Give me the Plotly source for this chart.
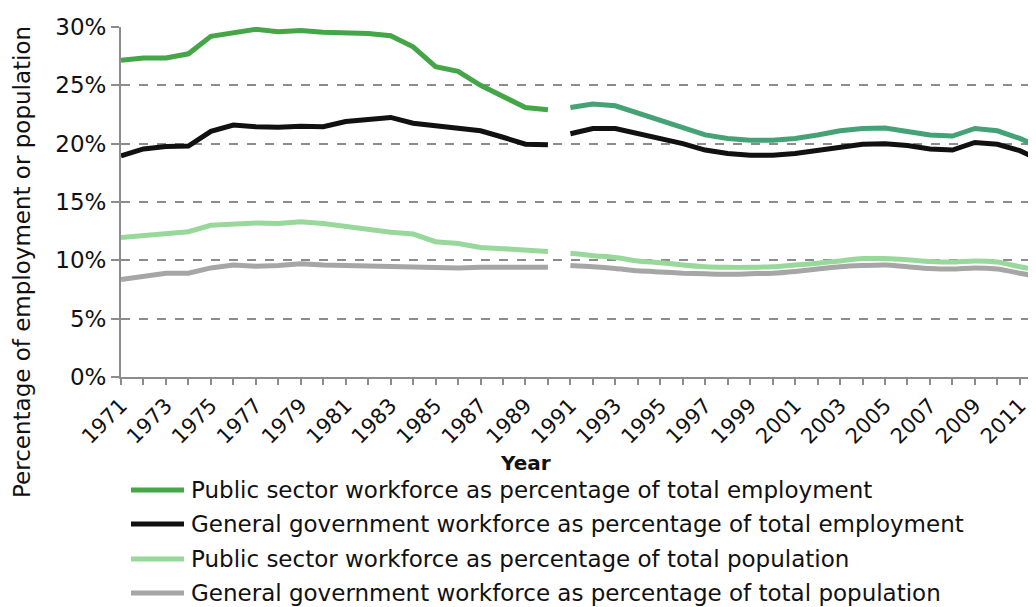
import plotly.graph_objects as go

# years for the two segments (break between 1990 and 1991)
years_a = list(range(1971, 1991))
years_b = list(range(1991, 2013))

# public sector workforce, % of total employment
ps_emp_a = [27.15, 27.35, 27.35, 27.7, 29.2, 29.55, 29.8, 29.6, 29.7, 29.55,
            29.55, 29.45, 29.25, 28.3, 26.6, 26.2, 25.0, 24.0, 23.1, 22.9]
ps_emp_b = [23.1, 23.4, 23.25, 22.6, 22.05, 21.4, 20.75, 20.45, 20.3, 20.3,
            20.45, 20.75, 21.1, 21.3, 21.35, 21.05, 20.75, 20.65, 21.3, 21.1,
            20.45, 19.6]

# general government workforce, % of total employment
gg_emp_a = [18.95, 19.55, 19.75, 19.8, 21.05, 21.6, 21.45, 21.4, 21.5, 21.45,
            21.9, 22.1, 22.25, 21.75, 21.55, 21.4, 21.1, 20.55, 19.95, 19.9]
gg_emp_b = [20.85, 21.3, 21.3, 20.9, 20.45, 20.0, 19.45, 19.15, 19.0, 19.0,
            19.15, 19.4, 19.7, 19.95, 20.0, 19.85, 19.55, 19.45, 20.1, 19.95,
            19.4, 18.5]

# public sector workforce, % of total population
ps_pop_a = [11.95, 12.1, 12.25, 12.45, 13.0, 13.1, 13.2, 13.15, 13.3, 13.15,
            12.9, 12.6, 12.4, 12.25, 11.6, 11.45, 11.1, 11.0, 10.9, 10.75]
ps_pop_b = [10.6, 10.4, 10.25, 9.95, 9.8, 9.6, 9.45, 9.4, 9.4, 9.45,
            9.6, 9.75, 9.95, 10.15, 10.15, 10.05, 9.9, 9.85, 9.95, 9.85,
            9.45, 9.1]

# general government workforce, % of total population
gg_pop_a = [8.35, 8.65, 8.9, 8.9, 9.35, 9.6, 9.5, 9.55, 9.7, 9.6,
            9.55, 9.45, 9.45, 9.4, 9.35, 9.35, 9.4, 9.4, 9.4, 9.4]
gg_pop_b = [9.55, 9.45, 9.3, 9.1, 9.0, 8.9, 8.85, 8.8, 8.85, 8.9,
            9.05, 9.25, 9.45, 9.55, 9.6, 9.45, 9.3, 9.25, 9.35, 9.25,
            8.9, 8.55]

names = [
    "Public sector workforce as percentage of total employment",
    "General government workforce as percentage of total employment",
    "Public sector workforce as percentage of total population",
    "General government workforce as percentage of total population",
]

FONT = "DejaVu Sans"
TEXT = "#111111"
AXIS = "#8c8c8c"

series = [
    (names[0], ps_emp_a, ps_emp_b, "#44a647", "#45a276", "linear"),
    (names[1], gg_emp_a, gg_emp_b, "#111111", "#111111", "linear"),
    (names[2], ps_pop_a, ps_pop_b, "#98d89b", "#98d89b", "spline"),
    (names[3], gg_pop_a, gg_pop_b, "#a6a6a6", "#a6a6a6", "spline"),
]

# the page body adds an 8px margin, so the figure sits 8px right/down
PAGE = 8
# plot area in figure pixels
L, T, W, H = 113, 19, 915, 350


def px_x(px):
    # screen pixel -> paper x
    return (px - PAGE - L) / W


def px_y(py):
    # screen pixel -> paper y
    return (T + H - (py - PAGE)) / H


fig = go.Figure()
for name, ya, yb, col_a, col_b, shape_b in series:
    fig.add_trace(go.Scatter(
        x=years_a, y=ya, mode="lines", name=name, showlegend=False,
        line=dict(color=col_a, width=5),
    ))
    fig.add_trace(go.Scatter(
        x=years_b, y=yb, mode="lines", name=name, showlegend=False,
        line=dict(color=col_b, width=5, shape=shape_b, smoothing=0.6),
    ))

fig.update_xaxes(
    range=[1971, 2011.72],
    tickmode="linear", tick0=1971, dtick=2,
    tickangle=-45,
    tickfont=dict(family=FONT, size=21, color=TEXT),
    ticks="outside", ticklen=6, tickwidth=1.5, tickcolor=AXIS,
    minor=dict(dtick=1, tick0=1971, ticks="outside", ticklen=6,
               tickwidth=1.5, tickcolor=AXIS, showgrid=False),
    showline=True, linecolor=AXIS, linewidth=2,
    showgrid=False, zeroline=False,
)
fig.update_yaxes(
    range=[0, 30],
    tickmode="linear", tick0=0, dtick=5,
    ticksuffix="%",
    tickfont=dict(family=FONT, size=23, color=TEXT),
    ticks="outside", ticklen=8, tickwidth=1.5, tickcolor=AXIS,
    showline=True, linecolor=AXIS, linewidth=2,
    showgrid=True, gridcolor=AXIS, gridwidth=1.5, griddash="dash",
    zeroline=False,
)

fig.add_annotation(
    text="<b>Year</b>", xref="paper", yref="paper",
    x=px_x(525), y=px_y(463), xanchor="center", yanchor="middle",
    showarrow=False, font=dict(family=FONT, size=20, color=TEXT),
)
fig.add_annotation(
    text="Percentage of employment or population", xref="paper", yref="paper",
    x=px_x(22), y=px_y(262), xanchor="center", yanchor="middle",
    textangle=-90, showarrow=False,
    font=dict(family=FONT, size=23, color=TEXT),
)

# legend drawn by hand so the key lines match the original length
legend_rows = [490, 524, 559, 593]
for (name, _, _, col_a, _, _), row in zip(series, legend_rows):
    fig.add_shape(
        type="line", xref="paper", yref="paper",
        x0=px_x(131), x1=px_x(184), y0=px_y(row), y1=px_y(row),
        line=dict(color=col_a, width=5),
    )
    fig.add_annotation(
        text=name, xref="paper", yref="paper",
        x=px_x(189), y=px_y(row), xanchor="left", yanchor="middle",
        showarrow=False, font=dict(family=FONT, size=23, color=TEXT),
    )

fig.update_layout(
    width=1036, height=607,
    margin=dict(l=L, r=1036 - L - W, t=T, b=607 - T - H, autoexpand=False),
    plot_bgcolor="white", paper_bgcolor="white",
    font=dict(family=FONT, color=TEXT),
    showlegend=False,
)

fig.write_html("out.html")
